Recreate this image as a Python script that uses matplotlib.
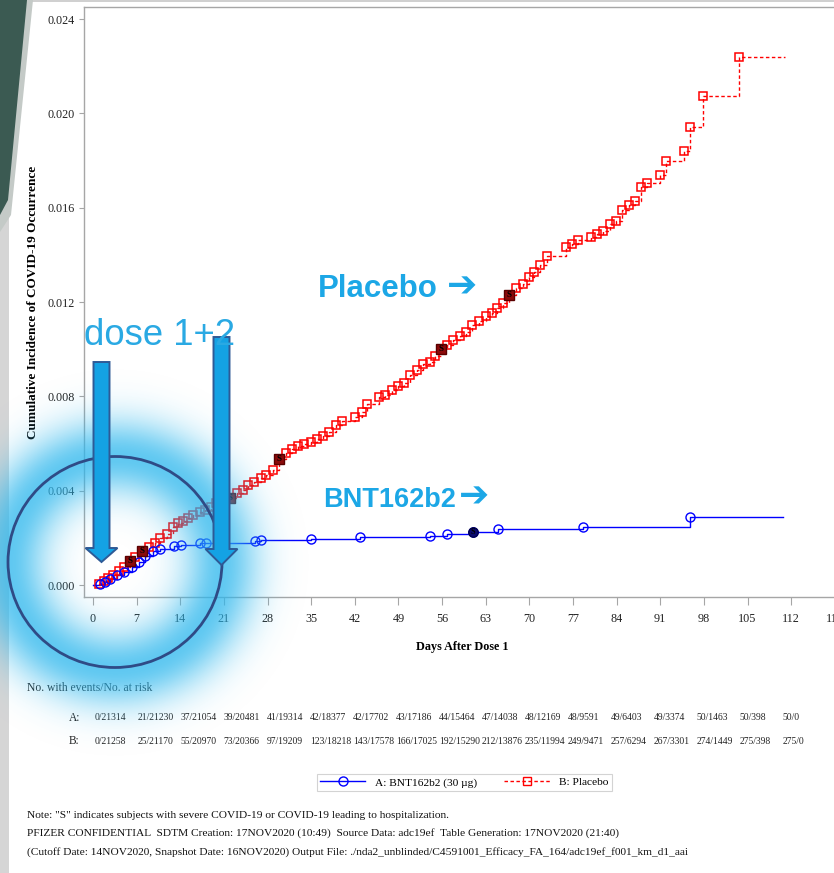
import numpy as np
import matplotlib
matplotlib.use("Agg")
import matplotlib.pyplot as plt
from matplotlib.patches import Polygon, Ellipse, Rectangle
from matplotlib.lines import Line2D
from matplotlib import transforms

# ---------------- data ----------------
risk_days = [0, 7, 14, 21, 28, 35, 42, 49, 56, 63, 70, 77, 84, 91, 98, 105, 112]
vaccine_risk = ["0/21314", "21/21230", "37/21054", "39/20481", "41/19314", "42/18377",
                "42/17702", "43/17186", "44/15464", "47/14038", "48/12169", "48/9591",
                "49/6403", "49/3374", "50/1463", "50/398", "50/0"]
placebo_risk = ["0/21258", "25/21170", "55/20970", "73/20366", "97/19209", "123/18218",
                "143/17578", "166/17025", "192/15290", "212/13876", "235/11994", "249/9471",
                "257/6294", "267/3301", "274/1449", "275/398", "275/0"]

placebo_days = [0.9, 1.7, 2.4, 3.2, 4.1, 5.0, 6.0, 6.8, 7.9, 8.9,
                9.9, 10.8, 11.9, 12.8, 13.6, 14.5, 15.2, 16.1, 17.2, 17.9,
                18.9, 19.8, 22.0, 23.1, 24.0, 24.9, 25.9, 26.9, 27.8, 28.8,
                29.9, 31.0, 31.9, 32.9, 33.9, 34.9, 35.9, 36.9, 37.9, 39.0,
                39.9, 42.0, 43.1, 43.9, 45.9, 46.9, 48.0, 49.0, 49.9, 50.9,
                51.9, 52.9, 54.0, 54.9, 55.8, 56.8, 57.8, 58.9, 59.9, 60.8,
                62.0, 63.0, 64.0, 64.8, 65.8, 66.8, 67.9, 69.0, 69.9, 70.8,
                71.7, 72.9, 75.9, 76.8, 77.8, 79.9, 80.8, 81.8, 82.9, 83.9,
                84.9, 86.0, 87.0, 87.9, 88.9, 90.9, 91.9, 94.8, 95.8, 97.8,
                103.7]
placebo_cuminc = [0.000042, 0.00017, 0.000318, 0.000445, 0.000594, 0.000785, 0.001018, 0.0012, 0.001463, 0.001625,
                  0.001794, 0.001981, 0.002184, 0.002481, 0.00263, 0.002736, 0.002863, 0.002969, 0.003097, 0.003203,
                  0.00333, 0.003478, 0.00369, 0.003902, 0.004051, 0.004242, 0.00439, 0.004539, 0.004666, 0.004878,
                  0.005345, 0.005599, 0.005748, 0.005875, 0.005981, 0.006045, 0.006172, 0.006341, 0.00649, 0.006766,
                  0.00697, 0.00712, 0.007317, 0.007678, 0.007987, 0.00808, 0.008271, 0.008428, 0.008568, 0.008887,
                  0.009099, 0.009374, 0.009459, 0.009714, 0.01001, 0.0102, 0.010405, 0.010562, 0.010732, 0.011007,
                  0.011177, 0.01141, 0.011538, 0.01175, 0.01194, 0.012314, 0.012577, 0.012747, 0.013065, 0.013277,
                  0.013552, 0.013955, 0.01435, 0.014443, 0.014634, 0.014774, 0.014867, 0.015016, 0.015313, 0.015453,
                  0.015907, 0.016119, 0.016288, 0.01687, 0.017065, 0.017391, 0.017998, 0.018409, 0.019415, 0.020742,
                  0.02241]
placebo_end_day = 111.0
placebo_severe_days = [6.0, 7.9, 22.0, 29.9, 55.8, 66.8]

vaccine_days = [1.1, 1.9, 2.7, 3.9, 5.0, 6.2, 7.3, 8.3, 9.7, 10.8, 13.0, 14.1,
                17.2, 18.1, 26.0, 26.9, 34.9, 42.9, 54.1, 56.8, 61.0, 65.0, 78.6, 95.8]
vaccine_cuminc = [0.00005, 0.000127, 0.000276, 0.000445, 0.000573, 0.000764, 0.000976, 0.001251,
                  0.001463, 0.001548, 0.001676, 0.001697, 0.001782, 0.001794, 0.001887, 0.001909,
                  0.001972, 0.002036, 0.0021, 0.00217, 0.00226, 0.00236, 0.00247, 0.00288]
vaccine_end_day = 110.7
vaccine_severe_days = [61.0]

x_ticks = list(range(0, 120, 7))
y_ticks = [0.000, 0.004, 0.008, 0.012, 0.016, 0.020, 0.024]

footnotes = [
    'Note: "S" indicates subjects with severe COVID-19 or COVID-19 leading to hospitalization.',
    'PFIZER CONFIDENTIAL  SDTM Creation: 17NOV2020 (10:49)  Source Data: adc19ef  Table Generation: 17NOV2020 (21:40)',
    '(Cutoff Date: 14NOV2020, Snapshot Date: 16NOV2020) Output File: ./nda2_unblinded/C4591001_Efficacy_FA_164/adc19ef_f001_km_d1_aai',
]

# ---------------- figure ----------------
plt.rcParams['font.family'] = ['Liberation Serif', 'DejaVu Serif']
W, H = 834, 873
fig = plt.figure(figsize=(W / 100, H / 100), dpi=100)
fig.patch.set_facecolor('white')

def fx(px):
    return px / W

def fy(py):
    return 1 - py / H

ax_left, ax_right, ax_top, ax_bot = 84, 841, 7.3, 597.3
ax = fig.add_axes([fx(ax_left), fy(ax_bot), (ax_right - ax_left) / W, (ax_bot - ax_top) / H])
ax.set_xlim(-1.45, 120)
ax.set_ylim(-0.00052, 0.0245)

spine_c = '#a6a6a6'
for s in ax.spines.values():
    s.set_color(spine_c)
    s.set_linewidth(1.0)

ax.set_xticks(x_ticks)
ax.set_yticks(y_ticks)
ax.set_yticklabels([f"{v:.3f}" for v in y_ticks])
ax.tick_params(axis='x', direction='out', length=5.5, width=0.8, color=spine_c,
               labelsize=8.7, pad=6, labelcolor='#222222')
ax.tick_params(axis='y', direction='out', length=3.6, width=0.8, color=spine_c,
               labelsize=8.7, pad=3, labelcolor='#222222')

ax.set_xlabel('Days After Dose 1', fontsize=8.7, fontweight='bold')
ax.xaxis.set_label_coords(0.5, (H - 641 - (H - ax_bot)) / (ax_bot - ax_top))
ax.set_ylabel('Cumulative Incidence of COVID-19 Occurrence', fontsize=9.5, fontweight='bold')
ax.yaxis.set_label_coords((39 - ax_left) / (ax_right - ax_left), 0.5)

# curves
red = '#ff0000'
blue = '#0000ff'
px = [0] + placebo_days + [placebo_end_day]
py = [0] + placebo_cuminc + [placebo_cuminc[-1]]
ax.step(px, py, where='post', color=red, lw=1.0, linestyle=(0, (2.5, 1.8)), zorder=3)
ax.plot(placebo_days, placebo_cuminc, linestyle='none', marker='s', ms=6.3,
        mfc='none', mec=red, mew=1.1, zorder=4)

vx = [0] + vaccine_days + [vaccine_end_day]
vy = [0] + vaccine_cuminc + [vaccine_cuminc[-1]]
ax.step(vx, vy, where='post', color=blue, lw=1.0, zorder=3)
ax.plot(vaccine_days, vaccine_cuminc, linestyle='none', marker='o', ms=6.5,
        mfc='none', mec=blue, mew=1.0, zorder=4)

# severe markers
for d in placebo_severe_days:
    v = placebo_cuminc[placebo_days.index(d)]
    ax.plot([d], [v], marker='s', ms=6.8, mfc='#8b0a0a', mec='#5a0000', mew=1.0, zorder=5)
    ax.text(d, v, 'S', ha='center', va='center', fontsize=6.5, fontweight='bold', color='black', zorder=6)
for d in vaccine_severe_days:
    v = vaccine_cuminc[vaccine_days.index(d)]
    ax.plot([d], [v], marker='o', ms=6.8, mfc='#0a0a6e', mec='#000050', mew=1.0, zorder=5)
    ax.text(d, v, 'S', ha='center', va='center', fontsize=6, fontweight='bold', color='black', zorder=6)

# at-risk table
tr = transforms.blended_transform_factory(ax.transData, fig.transFigure)
fig.text(fx(27), fy(688), 'No. with events/No. at risk', fontsize=8.4, va='center', ha='left', color='#222222')
fig.text(fx(69), fy(718), 'A:', fontsize=8.3, va='center', ha='left', color='#222222')
fig.text(fx(69), fy(741), 'B:', fontsize=8.3, va='center', ha='left', color='#222222')
for d, a, b in zip(risk_days, vaccine_risk, placebo_risk):
    xt = d * 0.985 + 0.3
    ax.text(xt, fy(718), a, transform=tr, fontsize=6.9, va='center', ha='left', color='#222222')
    ax.text(xt, fy(741), b, transform=tr, fontsize=6.9, va='center', ha='left', color='#222222')

# legend
handles = [Line2D([], [], color=blue, lw=1.0, marker='o', ms=6.5, mfc='none', mec=blue),
           Line2D([], [], color=red, lw=1.0, linestyle=(0, (2.5, 1.8)), marker='s', ms=6.3, mfc='none', mec=red)]
leg = fig.legend(handles, ['A: BNT162b2 (30 µg)', 'B: Placebo'], loc='center',
                 bbox_to_anchor=(fx(464), fy(782.5)), ncol=2, frameon=True, fancybox=False,
                 edgecolor='#c8c8c8', fontsize=8.2, handlelength=4.0, columnspacing=2.4,
                 borderpad=0.3, handletextpad=0.8)
leg.get_frame().set_linewidth(0.8)

# footnotes
for i, t in enumerate(footnotes):
    fig.text(fx(27), fy(815 + 18.5 * i), t, fontsize=8.2, va='center', ha='left', color='#111111')

# ---------------- slide overlay ----------------
ov = fig.add_axes([0, 0, 1, 1], zorder=5)
ov.set_xlim(0, W)
ov.set_ylim(H, 0)
ov.axis('off')
ov.patch.set_alpha(0)

# left strip and decoration
ov.add_patch(Rectangle((0, 0), 9, H, color='#d5d5d5', lw=0, zorder=0))
ov.add_patch(Rectangle((0, 0), W, 2.2, color='#d0d0d0', lw=0, zorder=0))
ov.add_patch(Polygon([(0, 0), (33, 0), (11, 215), (0, 232)], closed=True, color='#c4cac7', lw=0, zorder=0))
ov.add_patch(Polygon([(0, 0), (27, 0), (8, 200), (0, 215)], closed=True, color='#3b5a52', lw=0, zorder=0))

# glow around circle
cx, cy, R = 115, 562, 106
yy, xx = np.mgrid[0:H, 0:W]
d = np.hypot(xx - cx, yy - cy)
alpha = 0.76 * np.exp(-((d - R) / 38.0) ** 2)
rgba = np.zeros((H, W, 4))
rgba[..., 0] = 0.18
rgba[..., 1] = 0.72
rgba[..., 2] = 0.93
rgba[..., 3] = alpha
ov.imshow(rgba, extent=(0, W, H, 0), interpolation='bilinear', zorder=1, aspect='auto')
ov.set_xlim(0, W)
ov.set_ylim(H, 0)

ov.add_patch(Ellipse((cx, cy), 214, 211, fill=False, ec='#2f4b86', lw=2.0, zorder=2))

def block_arrow(cxa, y0, yh, yt, sw=8, hw=16):
    pts = [(cxa - sw, y0), (cxa + sw, y0), (cxa + sw, yh), (cxa + hw, yh),
           (cxa, yt), (cxa - hw, yh), (cxa - sw, yh)]
    ov.add_patch(Polygon(pts, closed=True, fc='#14a2e4', ec='#2e5a96', lw=1.4, zorder=3))

block_arrow(101.5, 362, 548, 562)
block_arrow(221.5, 337, 549, 565)

sans = ['Liberation Sans', 'DejaVu Sans']
arrowfont = ['DejaVu Sans']
txt_c = '#1ca7e6'
ov.text(84, 345, 'dose 1+2', family=sans, fontsize=26.3, color='#2aa9e3', ha='left', va='baseline', zorder=4)
ov.text(318, 297, 'Placebo', family=sans, fontsize=22.5, fontweight='bold', color=txt_c,
        ha='left', va='baseline', zorder=4)
ov.text(447, 287, '➔', family=arrowfont, fontsize=26, color=txt_c,
        ha='left', va='center', zorder=4)
ov.text(323, 507, 'BNT162b2', family=sans, fontsize=19.5, fontweight='bold', color=txt_c,
        ha='left', va='baseline', zorder=4)
ov.text(459, 497, '➔', family=arrowfont, fontsize=26, color=txt_c,
        ha='left', va='center', zorder=4)

fig.savefig('out.png', dpi=100)
